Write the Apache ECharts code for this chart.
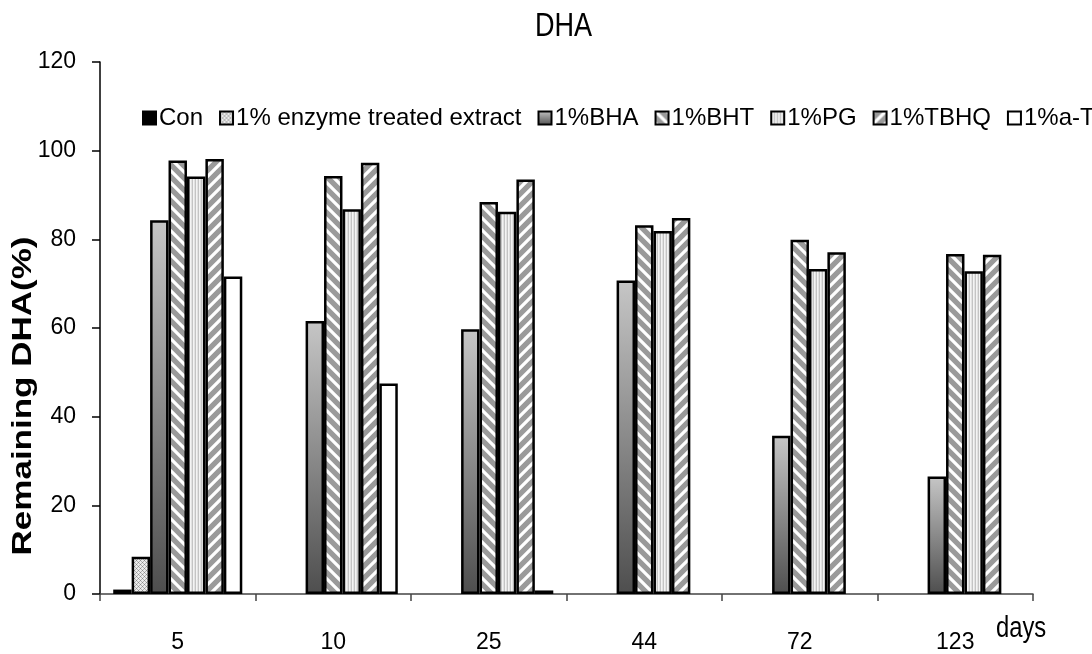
<!DOCTYPE html>
<html><head><meta charset="utf-8">
<script src="https://cdn.jsdelivr.net/npm/echarts@6/dist/echarts.min.js"></script>
<style>html,body{margin:0;padding:0;background:#fff}#c{width:1092px;height:654px}</style>
</head><body><div id="c"></div>
<script>
// ---- data ----
const categories = ['5', '10', '25', '44', '72', '123'];
const seriesNames = ['Con', '1% enzyme treated extract', '1%BHA', '1%BHT', '1%PG', '1%TBHQ', '1%a-T'];
const con    = [1.0, null, null, null, null, null];
const enzyme = [8.4, null, null, null, null, null];
const bha    = [84.3, 61.6, 59.7, 70.7, 35.7, 26.5];
const bht    = [97.8, 94.3, 88.4, 83.2, 79.9, 76.7];
const pg     = [94.2, 86.8, 86.2, 81.9, 73.3, 72.8];
const tbhq   = [98.1, 97.3, 93.5, 84.8, 77.1, 76.5];
const aT     = [71.6, 47.5, 0.8, null, null, null];
const yMin = 0, yMax = 120, yStep = 20;
const titleText = 'DHA';
const yName = 'Remaining DHA(%)';
const xName = 'days';

// ---- fonts ----
const FR = '"Liberation Sans", Arial, sans-serif';

// ---- patterns ----
function tile(w,h,draw){const c=document.createElement('canvas');c.width=w;c.height=h;const g=c.getContext('2d');draw(g,w,h);return c;}
const dotTile = tile(4,4,(g)=>{g.fillStyle='#ececec';g.fillRect(0,0,4,4);g.fillStyle='#8c8c8c';g.fillRect(0,0,1,1);g.fillRect(2,2,1,1);g.fillStyle='#b4b4b4';g.fillRect(1,1,1,1);g.fillRect(3,3,1,1);g.fillRect(3,1,1,1);g.fillRect(1,3,1,1);});
function stripes(back){return tile(12,12,(g,w,h)=>{g.fillStyle='#9a9a9a';g.fillRect(0,0,w,h);g.strokeStyle='#ffffff';g.lineWidth=3.2;g.beginPath();for(let c=-12;c<=12;c+=12){if(back){g.moveTo(c-2,-2);g.lineTo(c+14,14);}else{g.moveTo(c+14,-2);g.lineTo(c-2,14);}}g.stroke();});}
const vTile = tile(3,1,(g)=>{g.fillStyle='#f4f4f4';g.fillRect(0,0,3,1);g.fillStyle='#c4c4c4';g.fillRect(0,0,1,1);g.fillStyle='#e2e2e2';g.fillRect(2,0,1,1);});

const fills = [
  '#000000',
  {image: dotTile, repeat: 'repeat'},
  new echarts.graphic.LinearGradient(0,0,0,1,[{offset:0,color:'#c6c6c6'},{offset:1,color:'#4e4e4e'}]),
  {image: stripes(true), repeat: 'repeat'},
  {image: vTile, repeat: 'repeat'},
  {image: stripes(false), repeat: 'repeat'},
  '#ffffff'
];
const dataLists = [con, enzyme, bha, bht, pg, tbhq, aT];

const chart = echarts.init(document.getElementById('c'), null, {renderer:'canvas'});
chart.setOption({
  animation: false,
  backgroundColor: '#fff',
  textStyle: {fontFamily: FR, color: '#000'},
  legend: {
    data: seriesNames, left: 142, top: 106, width: 3000, padding: 0, itemWidth: 13, itemHeight: 13, itemGap: 16,
    icon: 'rect',
    textStyle: {fontFamily: FR, fontSize: 24, color: '#000', padding: [0,0,0,-2]}
  },
  grid: {left: 100, right: 59, top: 62, bottom: 60, containLabel: false},
  xAxis: {
    type: 'category', data: categories,
    axisLine: {lineStyle: {color: '#444', width: 1.5}},
    axisTick: {show: true, length: 7, lineStyle: {color: '#444', width: 1.5}},
    axisLabel: {margin: 37, fontFamily: FR, fontSize: 23, color: '#000'},
    splitLine: {show: false}
  },
  yAxis: {
    type: 'value', min: yMin, max: yMax, interval: yStep,
    axisLine: {show: true, lineStyle: {color: '#000', width: 1.5}},
    axisTick: {show: true, length: 8, lineStyle: {color: '#000', width: 1.5}},
    axisLabel: {margin: 24, fontFamily: FR, fontSize: 23, color: '#000'},
    splitLine: {show: false}
  },
  graphic: [
    {type: 'text', x: 535, y: 27, scaleX: 0.82, style: {text: titleText, fontFamily: FR, fontSize: 33, fill: '#000', align: 'left', verticalAlign: 'middle'}},
    {type: 'text', x: 996, y: 629, scaleX: 0.82, style: {text: xName, fontFamily: FR, fontSize: 29, fill: '#000', align: 'left', verticalAlign: 'middle'}},
    {type: 'text', x: 23, y: 396, rotation: Math.PI/2, scaleY: 0.8, style: {text: yName, fontFamily: FR, fontWeight: 'bold', fontSize: 35, fill: '#000', align: 'center', verticalAlign: 'middle'}}
  ],
  series: seriesNames.map((n,i) => ({
    name: n, type: 'bar', data: dataLists[i], barGap: '0%', barCategoryGap: '17%',
    itemStyle: {color: fills[i], borderColor: '#000', borderWidth: 2.5},
    emphasis: {disabled: true}
  }))
});
</script></body></html>
